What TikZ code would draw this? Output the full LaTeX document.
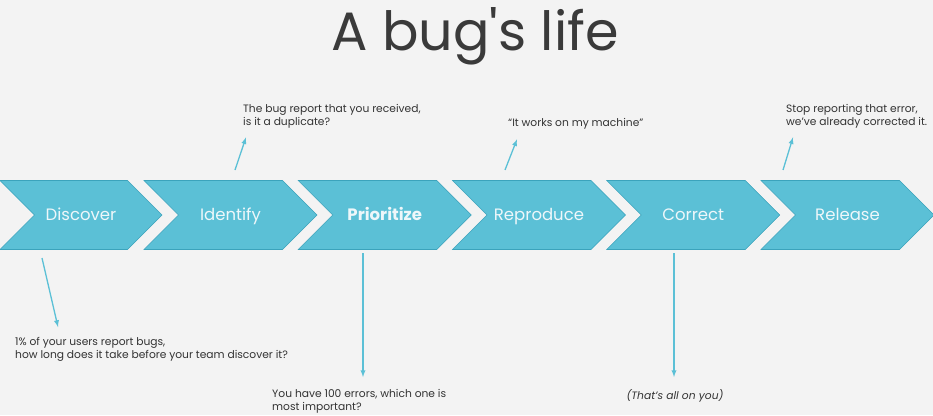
\documentclass[tikz,border=0pt]{standalone}
\usepackage{fontspec}
\setmainfont{Poppins}
\usepackage{tikz}
\usetikzlibrary{arrows,shapes.symbols}

\definecolor{chevfill}{HTML}{5BC0D6}
\definecolor{chevline}{HTML}{3BA3BC}
\definecolor{chevtext}{HTML}{EEF7FA}
\definecolor{notegray}{HTML}{333333}
\definecolor{titlegray}{HTML}{3A3A3A}
\definecolor{paper}{HTML}{F3F3F3}

\begin{document}
\begin{tikzpicture}[
		x=1pt, y=-1pt,
		chevron style/.style={
			shape=signal,
			signal from=west,
			signal to=east,
			signal pointer angle=90,
			draw=chevline,
			fill=chevfill,
			line width=0.6pt,
			minimum height=69pt,
			minimum width=173pt,
			inner sep=0pt,
			text height=11.5pt,
			text depth=0pt,
			text=chevtext,
			font=\fontsize{16.5}{19}\selectfont
		},
		note style/.style={
			align=left,
			inner sep=0pt,
			text=notegray,
			font=\fontsize{10.7}{13}\selectfont
		},
		arrow style/.style={
			->,
			draw=chevfill,
			line width=1.3pt
		},
		>=latex
		]
		
		\useasboundingbox[fill=paper] (0,0) rectangle (933,415);
		
		\node[text=titlegray, font=\fontsize{54}{58}\selectfont] (title) at (475,36) 
		{A bug\textquotesingle s life};
		
		% the six steps
		\node[chevron style, minimum width=162pt] (discover) at (81,215) {Discover};
		\node[chevron style] (identify) at (230.5,215) {Identify};
		\node[chevron style] (prioritize) at (384.75,215) {\textbf{Prioritize}};
		\node[chevron style] (reproduce) at (539,215) {Reproduce};
		\node[chevron style] (correct) at (693.25,215) {Correct};
		\node[chevron style] (release) at (847.5,215) {Release};
		
		% notes above
		\node[note style, anchor=north west] (identifynote) at (243,104) 
		{The bug report that you received,\\is it a duplicate?};
		\node[note style, anchor=north west] (reproducenote) at (508,118) 
		{“It works on my machine”};
		\node[note style, anchor=north west] (releasenote) at (786,104) 
		{Stop reporting that error,\\we’ve already corrected it.};
		
		% notes below
		\node[note style, anchor=north west] (discovernote) at (15,337) 
		{1\% of your users report bugs,\\how long does it take before your team discover it?};
		\node[note style, anchor=north west] (prioritizenote) at (272,389) 
		{You have 100 errors, which one is\\most important?};
		\node[note style, anchor=north, font=\fontsize{10.7}{13}\selectfont\itshape] (correctnote) at (675,389) 
		{(That’s all on you)};
		
		\coordinate (discovertail) at (42,258);
		\coordinate (identifytail) at (235,170);
		\coordinate (reproducetail) at (505,170);
		\coordinate (releasetail) at (783,170);
		\coordinate (prioritizetail) at (363,253);
		\coordinate (correcttail) at (674,253);
		
		\draw[arrow style] (discovertail) -- ([shift={(43,-10)}]discovernote.north west);
		\draw[arrow style] (identifytail) -- ([shift={(3,9)}]identifynote.south west);
		\draw[arrow style] (reproducetail) -- ([shift={(9,10)}]reproducenote.south west);
		\draw[arrow style] (releasetail) -- ([shift={(7,9)}]releasenote.south west);
		\draw[arrow style, shorten >=12pt] (prioritizetail) -- (prioritizetail |- prioritizenote.north);
		\draw[arrow style, shorten >=12pt] (correcttail) -- (correcttail |- correctnote.north);
		
	\end{tikzpicture}
\end{document}
